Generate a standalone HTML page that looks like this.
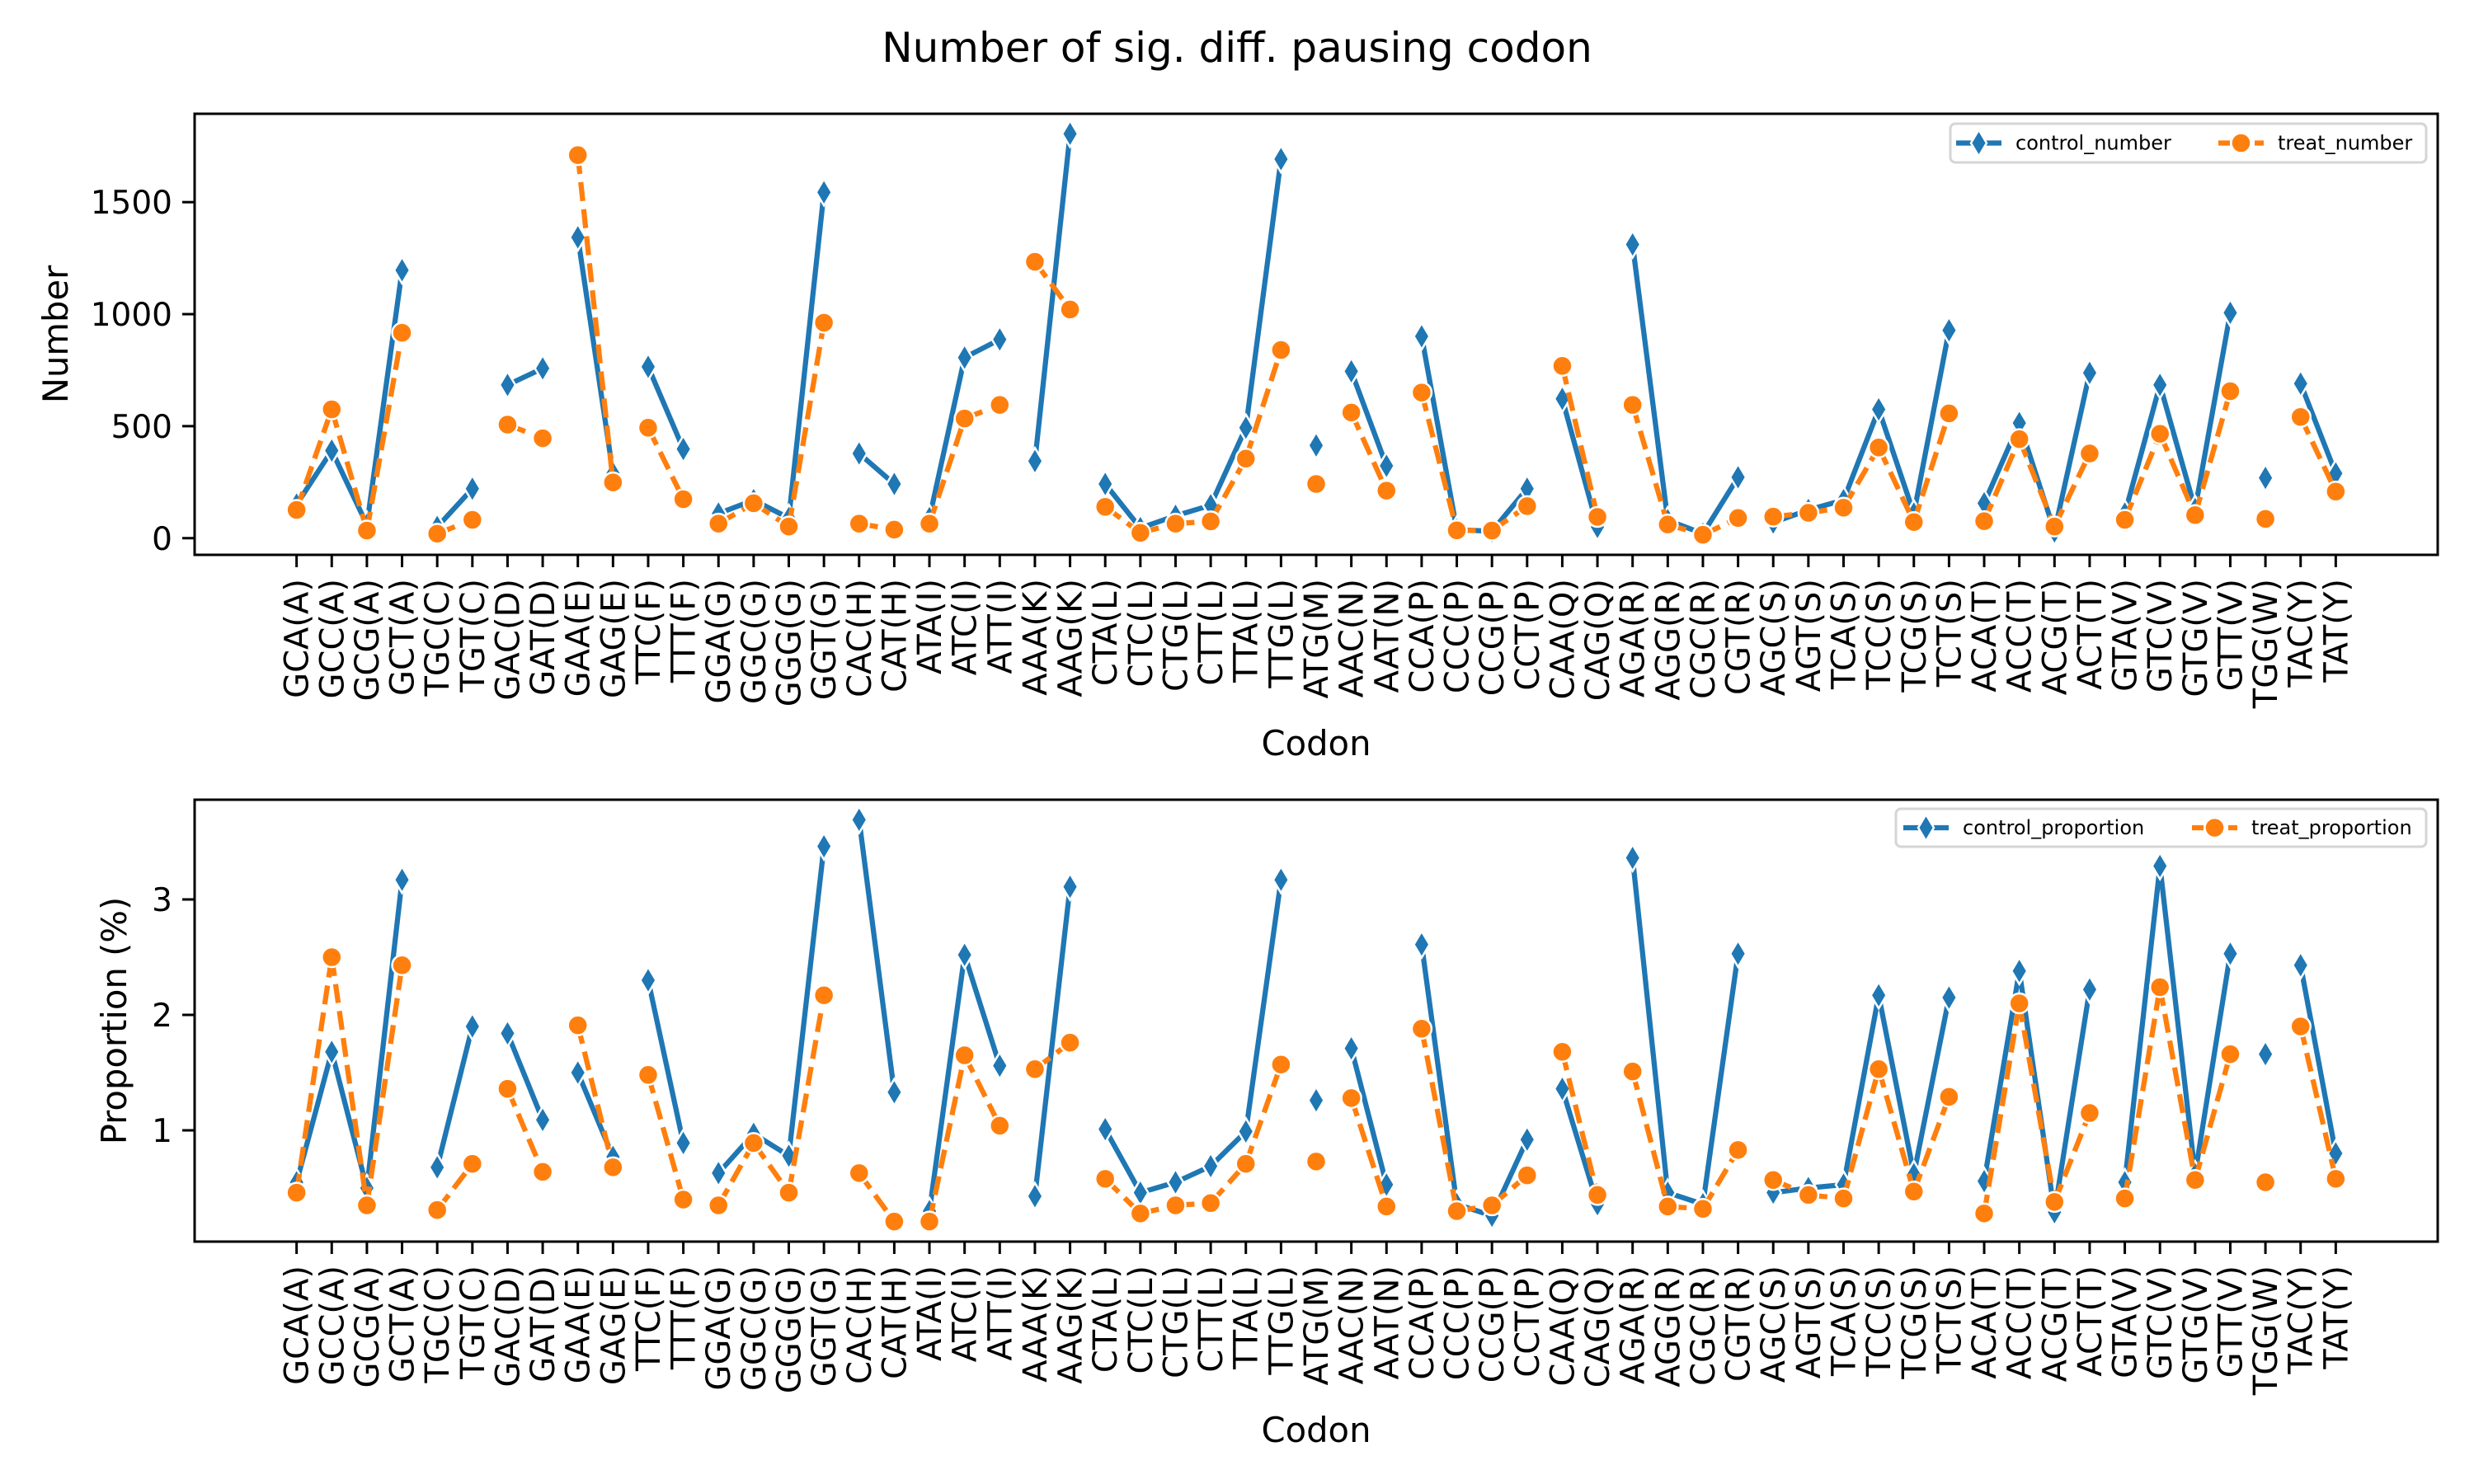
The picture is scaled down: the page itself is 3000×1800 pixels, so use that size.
<!DOCTYPE html>
<html><head><meta charset="utf-8"><title>Number of sig. diff. pausing codon</title>
<style>
html,body{margin:0;padding:0;background:#fff;}
svg{display:block;font-family:"DejaVu Sans","Liberation Sans",sans-serif;}
</style></head>
<body>
<svg id="fig" width="3000" height="1800" viewBox="0 0 3000 1800" xmlns="http://www.w3.org/2000/svg">
<rect x="0" y="0" width="3000" height="1800" fill="#fff"/>
<text x="1500" y="75" font-size="50" text-anchor="middle">Number of sig. diff. pausing codon</text>
<g id="top"></g>
<g id="bot"></g>
</svg>
<script>
const codons = ["GCA(A)","GCC(A)","GCG(A)","GCT(A)","TGC(C)","TGT(C)","GAC(D)","GAT(D)","GAA(E)","GAG(E)","TTC(F)","TTT(F)","GGA(G)","GGC(G)","GGG(G)","GGT(G)","CAC(H)","CAT(H)","ATA(I)","ATC(I)","ATT(I)","AAA(K)","AAG(K)","CTA(L)","CTC(L)","CTG(L)","CTT(L)","TTA(L)","TTG(L)","ATG(M)","AAC(N)","AAT(N)","CCA(P)","CCC(P)","CCG(P)","CCT(P)","CAA(Q)","CAG(Q)","AGA(R)","AGG(R)","CGC(R)","CGT(R)","AGC(S)","AGT(S)","TCA(S)","TCC(S)","TCG(S)","TCT(S)","ACA(T)","ACC(T)","ACG(T)","ACT(T)","GTA(V)","GTC(V)","GTG(V)","GTT(V)","TGG(W)","TAC(Y)","TAT(Y)"];
const controlNumber = [150,391,60,1196,50,221,684,758,1343,290,765,398,110,170,90,1544,378,242,90,806,887,344,1805,242,45,100,147,493,1692,414,745,323,901,38,31,221,622,50,1311,80,20,272,70,126,170,575,110,928,156,514,30,738,110,684,130,1006,269,690,289];
const treatNumber = [126,575,34,917,20,82,507,446,1710,249,493,174,65,156,52,962,65,38,65,534,595,1234,1021,140,24,65,75,355,840,242,561,212,650,35,34,143,769,95,595,61,15,90,96,113,136,405,72,557,76,442,52,378,82,466,103,656,86,541,208];
const controlProportion = [0.55,1.68,0.50,3.17,0.68,1.90,1.84,1.09,1.50,0.77,2.30,0.89,0.63,0.97,0.78,3.46,3.69,1.33,0.30,2.52,1.56,0.43,3.11,1.01,0.46,0.55,0.69,0.99,3.17,1.26,1.71,0.53,2.61,0.36,0.26,0.92,1.36,0.36,3.36,0.46,0.36,2.53,0.46,0.50,0.53,2.17,0.62,2.15,0.56,2.38,0.29,2.22,0.55,3.29,0.62,2.53,1.66,2.43,0.80];
const treatProportion = [0.46,2.50,0.35,2.43,0.31,0.71,1.36,0.64,1.91,0.68,1.48,0.40,0.35,0.89,0.46,2.17,0.63,0.21,0.21,1.65,1.04,1.53,1.76,0.58,0.28,0.35,0.37,0.71,1.57,0.73,1.28,0.34,1.88,0.30,0.35,0.61,1.68,0.44,1.51,0.34,0.32,0.83,0.57,0.44,0.41,1.53,0.47,1.29,0.28,2.10,0.38,1.15,0.41,2.24,0.57,1.66,0.55,1.90,0.58];
const topTicks = [0,500,1000,1500];
const topTickLabels = ["0","500","1000","1500"];
const botTicks = [1,2,3];
const botTickLabels = ["1","2","3"];

const NS = "http://www.w3.org/2000/svg";
const BLUE = "#1f77b4", ORANGE = "#ff7f0e";
function mk(tag, attrs, parent){ const e=document.createElementNS(NS,tag); for(const k in attrs) e.setAttribute(k,attrs[k]); parent.appendChild(e); return e; }
function aa(c){ return c.slice(4,5); }

function diamond(g,x,y,color){
  return mk("path",{d:`M${x},${y-16} L${x+9.5},${y} L${x},${y+16} L${x-9.5},${y} Z`,fill:color,stroke:"#fff","stroke-width":2.5},g);
}
function circle(g,x,y,color){
  return mk("circle",{cx:x,cy:y,r:12,fill:color,stroke:"#fff","stroke-width":2.5},g);
}

function drawChart(gid, top, bottom, s1, s2, ticks, tickLabels, ylabel, ylabelX, legendNames, legBox){
  const g = document.getElementById(gid);
  const L=236, R=2956, n=codons.length;
  const xlo=-0.05*(n-1), xhi=(n-1)*1.05;
  const xs = i => L + (i-xlo)/(xhi-xlo)*(R-L);
  const all = s1.concat(s2);
  const mn=Math.min(...all), mx=Math.max(...all), pad=(mx-mn)*0.05;
  const ylo=mn-pad, yhi=mx+pad;
  const ys = v => bottom - (v-ylo)/(yhi-ylo)*(bottom-top);
  ticks.forEach((t,i)=>{
    const y=ys(t);
    const tk=mk("line",{x1:L-15,x2:L,y1:y,y2:y,stroke:"#000","stroke-width":3},g);
    
    
    const tl=mk("text",{x:L-27,y:y+14,"font-size":39,"text-anchor":"end"},g);
    tl.textContent=tickLabels[i];
    
    
  });
  codons.forEach((c,i)=>{
    const x=xs(i);
    const tk=mk("line",{x1:x,x2:x,y1:bottom,y2:bottom+15,stroke:"#000","stroke-width":3},g);
    
    
    const tl=mk("text",{x:0,y:0,"font-size":40,"text-anchor":"end",transform:`translate(${x+14},${bottom+29}) rotate(-90)`},g);
    tl.textContent=c;
    
    
  });
  [[s1,BLUE,false],[s2,ORANGE,true]].forEach(([s,col,dash],si)=>{
    const sg=mk("g",{},g);
    
    
    for(let i=0;i<n-1;i++){
      if(aa(codons[i])===aa(codons[i+1])){
        const ln=mk("line",{x1:xs(i),y1:ys(s[i]),x2:xs(i+1),y2:ys(s[i+1]),stroke:col,"stroke-width":6.25,"stroke-linecap":"butt"},sg);
        if(dash) ln.setAttribute("stroke-dasharray","23,10");
        
        
      }
    }
    for(let i=0;i<n;i++){
      const m = si===0 ? diamond(sg,xs(i),ys(s[i]),col) : circle(sg,xs(i),ys(s[i]),col);
      
      
    }
  });
  const fr=mk("rect",{x:L,y:top,width:R-L,height:bottom-top,fill:"none",stroke:"#000","stroke-width":3},g);
  
  
  const xl=mk("text",{x:(L+R)/2,y:bottom+243,"font-size":41.7,"text-anchor":"middle"},g);
  xl.textContent="Codon";
  
  
  const yl=mk("text",{x:0,y:0,"font-size":41.7,"text-anchor":"middle",transform:`translate(${ylabelX},${(top+bottom)/2}) rotate(-90)`},g);
  yl.textContent=ylabel;
  
  
  const lg=mk("g",{},g);
  
  
  const [bx,by,bw,bh,h1,t1,h2,t2]=legBox;
  mk("rect",{x:bx,y:by,width:bw,height:bh,rx:6,fill:"#fff","fill-opacity":0.8,stroke:"#d5d5d5","stroke-width":3},lg);
  const cy=by+bh/2;
  const e1=mk("g",{},lg);
  
  
  mk("line",{x1:h1,x2:h1+55,y1:cy,y2:cy,stroke:BLUE,"stroke-width":6.25},e1);
  diamond(e1,h1+27.5,cy,BLUE);
  const lt1=mk("text",{x:t1,y:cy+8,"font-size":24},e1); lt1.textContent=legendNames[0];
  const e2=mk("g",{},lg);
  
  
  mk("line",{x1:h2,x2:h2+55,y1:cy,y2:cy,stroke:ORANGE,"stroke-width":6.25,"stroke-dasharray":"14,8"},e2);
  circle(e2,h2+27.5,cy,ORANGE);
  const lt2=mk("text",{x:t2,y:cy+8,"font-size":24},e2); lt2.textContent=legendNames[1];
}

drawChart("top",138,673,controlNumber,treatNumber,topTicks,topTickLabels,"Number",82,
  ["control_number","treat_number"],[2365,150,577,47,2372,2444,2690,2762]);
drawChart("bot",970,1506,controlProportion,treatProportion,botTicks,botTickLabels,"Proportion (%)",153,
  ["control_proportion","treat_proportion"],[2299,981,643,46,2308,2380,2658,2730]);
</script>
</body></html>
